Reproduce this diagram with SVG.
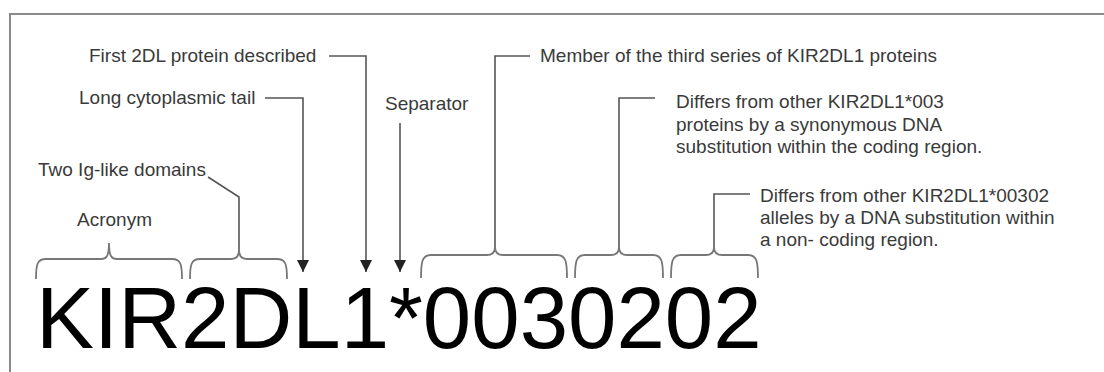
<svg xmlns="http://www.w3.org/2000/svg" width="1104" height="372" viewBox="0 0 1104 372">
<defs>
<style>
.lbl{font-family:"Liberation Sans",Arial,sans-serif;font-size:19px;fill:#3a3a3a}
.main{font-family:"Liberation Sans",Arial,sans-serif;font-size:87px;fill:#000}
.ln{fill:none;stroke:#555;stroke-width:1.6}
.br{fill:none;stroke:#777;stroke-width:1.8}
.frame{fill:none;stroke:#8a8a8a;stroke-width:2}
</style>
<marker id="arr" markerWidth="12" markerHeight="12" refX="12" refY="6" orient="auto" markerUnits="userSpaceOnUse" viewBox="0 0 12 12">
<path d="M0,0 L12,6 L0,12 Z" fill="#222"/>
</marker>
</defs>
<rect width="1104" height="372" fill="#fff"/>
<path class="frame" d="M10,372 L10,14 L1104,14"/>

<g id="main-name"><text class="main" x="36" y="348">KIR2DL1*0030202</text></g>

<g id="acronym">
<text class="lbl" x="77" y="226">Acronym</text>
<path class="br" d="M36,279 C36,265 37,259 46,259 L101,259 C106,259 109,257 109,243 C109,257 112,259 117,259 L172,259 C181,259 182,265 182,279"/>
</g>

<g id="ig-domains">
<text class="lbl" x="38" y="176">Two Ig-like domains</text>
<path class="br" d="M190,279 C190,265 191,259 200,259 L231,259 C236,259 239,257 239,250 C239,257 242,259 247,259 L277,259 C286,259 287,265 287,279"/>
</g>

<g id="tail"><text class="lbl" x="79" y="104">Long cytoplasmic tail</text></g>
<g id="first-2dl"><text class="lbl" x="89" y="62">First 2DL protein described</text></g>
<g id="separator"><text class="lbl" x="385" y="110">Separator</text></g>

<g id="third-series">
<text class="lbl" x="540" y="62">Member of the third series of KIR2DL1 proteins</text>
<path class="br" d="M421,278 C421,262 422,255 431,255 L487,255 C492,255 495,253 495,247 C495,253 498,255 503,255 L557,255 C566,255 567,262 567,278"/>
</g>

<g id="synonymous">
<text class="lbl" x="676" y="108">Differs from other KIR2DL1*003</text>
<text class="lbl" x="676" y="130.5">proteins by a synonymous DNA</text>
<text class="lbl" x="676" y="153">substitution within the coding region.</text>
<path class="br" d="M575,278 C575,262 576,255 585,255 L611,255 C616,255 619,253 619,247 C619,253 622,255 627,255 L653,255 C662,255 663,262 663,278"/>
</g>

<g id="noncoding">
<text class="lbl" x="760" y="202">Differs from other KIR2DL1*00302</text>
<text class="lbl" x="760" y="224">alleles by a DNA substitution within</text>
<text class="lbl" x="760" y="246">a non- coding region.</text>
<path class="br" d="M671,278 C671,262 672,255 681,255 L706,255 C711,255 714,253 714,247 C714,253 717,255 722,255 L748,255 C757,255 758,262 758,278"/>
</g>

<g id="connectors">
<path class="ln" d="M208,177 L239,197 L239,250"/>
<path class="ln" d="M265,98 L303,98 L303,272" marker-end="url(#arr)"/>
<path class="ln" d="M329,56 L366,56 L366,272" marker-end="url(#arr)"/>
<path class="ln" d="M400,123 L400,272" marker-end="url(#arr)"/>
<path class="ln" d="M530,56 L495,56 L495,247"/>
<path class="ln" d="M655,98 L619,98 L619,247"/>
<path class="ln" d="M750,194 L714,194 L714,247"/>
</g>
</svg>
